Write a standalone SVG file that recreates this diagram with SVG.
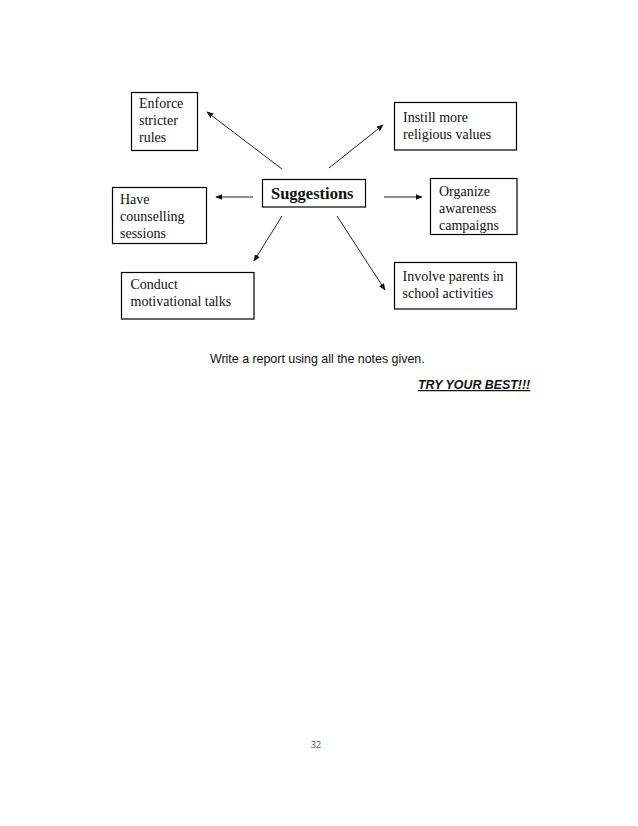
<svg xmlns="http://www.w3.org/2000/svg" width="638" height="826" viewBox="0 0 638 826">
<style>
.box{fill:#fff;stroke:#000;stroke-width:1.2}
.t{font-family:"Liberation Serif","Times New Roman",serif;font-size:14px;fill:#111}
.b{font-family:"Liberation Serif","Times New Roman",serif;font-size:16.5px;font-weight:bold;fill:#111}
.c line{stroke:#222;stroke-width:1}
.s{font-family:"Liberation Sans",Arial,sans-serif;font-size:12.4px;fill:#111}
</style>
<defs>
<marker id="ah" viewBox="0 0 10 10" refX="9" refY="5" markerWidth="7" markerHeight="7" markerUnits="userSpaceOnUse" orient="auto">
<path d="M0,1 L10,5 L0,9 z" fill="#111"/>
</marker>
</defs>
<rect width="638" height="826" fill="#fff"/>
<g id="connectors" class="c">
<line x1="282" y1="169" x2="207" y2="112" marker-end="url(#ah)"/>
<line x1="329" y1="168" x2="383" y2="125" marker-end="url(#ah)"/>
<line x1="253" y1="197" x2="216" y2="197" marker-end="url(#ah)"/>
<line x1="384" y1="197" x2="422" y2="197" marker-end="url(#ah)"/>
<line x1="282" y1="216" x2="254" y2="261" marker-end="url(#ah)"/>
<line x1="337" y1="216" x2="385" y2="290" marker-end="url(#ah)"/>
</g>
<g id="suggestions">
<rect class="box" x="262.5" y="179.5" width="103" height="27.5"/>
<text class="b" x="271" y="199">Suggestions</text>
</g>
<g id="enforce">
<rect class="box" x="131.5" y="92.5" width="66" height="58"/>
<text class="t" x="139" y="108">Enforce</text>
<text class="t" x="139" y="125">stricter</text>
<text class="t" x="139" y="142">rules</text>
</g>
<g id="instill">
<rect class="box" x="394.5" y="102.5" width="122" height="47.5"/>
<text class="t" x="403" y="122">Instill more</text>
<text class="t" x="403" y="139">religious values</text>
</g>
<g id="have">
<rect class="box" x="112.5" y="187.5" width="94" height="56"/>
<text class="t" x="120" y="204">Have</text>
<text class="t" x="120" y="221">counselling</text>
<text class="t" x="120" y="238">sessions</text>
</g>
<g id="organize">
<rect class="box" x="430.5" y="178.5" width="86.5" height="56"/>
<text class="t" x="439" y="195.5">Organize</text>
<text class="t" x="439" y="212.5">awareness</text>
<text class="t" x="439" y="229.5">campaigns</text>
</g>
<g id="conduct">
<rect class="box" x="121.5" y="272.5" width="132.5" height="46.5"/>
<text class="t" x="130.5" y="289">Conduct</text>
<text class="t" x="130.5" y="306">motivational talks</text>
</g>
<g id="involve">
<rect class="box" x="394.5" y="262.5" width="122" height="46.5"/>
<text class="t" x="402.5" y="280.5">Involve parents in</text>
<text class="t" x="402.5" y="297.5">school activities</text>
</g>
<text class="s" x="210" y="363">Write a report using all the notes given.</text>
<text class="s" x="418" y="389" font-weight="bold" font-style="italic" text-decoration="underline">TRY YOUR BEST!!!</text>
<text x="316" y="748" font-family="'Open Sans','Liberation Sans',sans-serif" font-size="9" fill="#555" text-anchor="middle">32</text>
</svg>
